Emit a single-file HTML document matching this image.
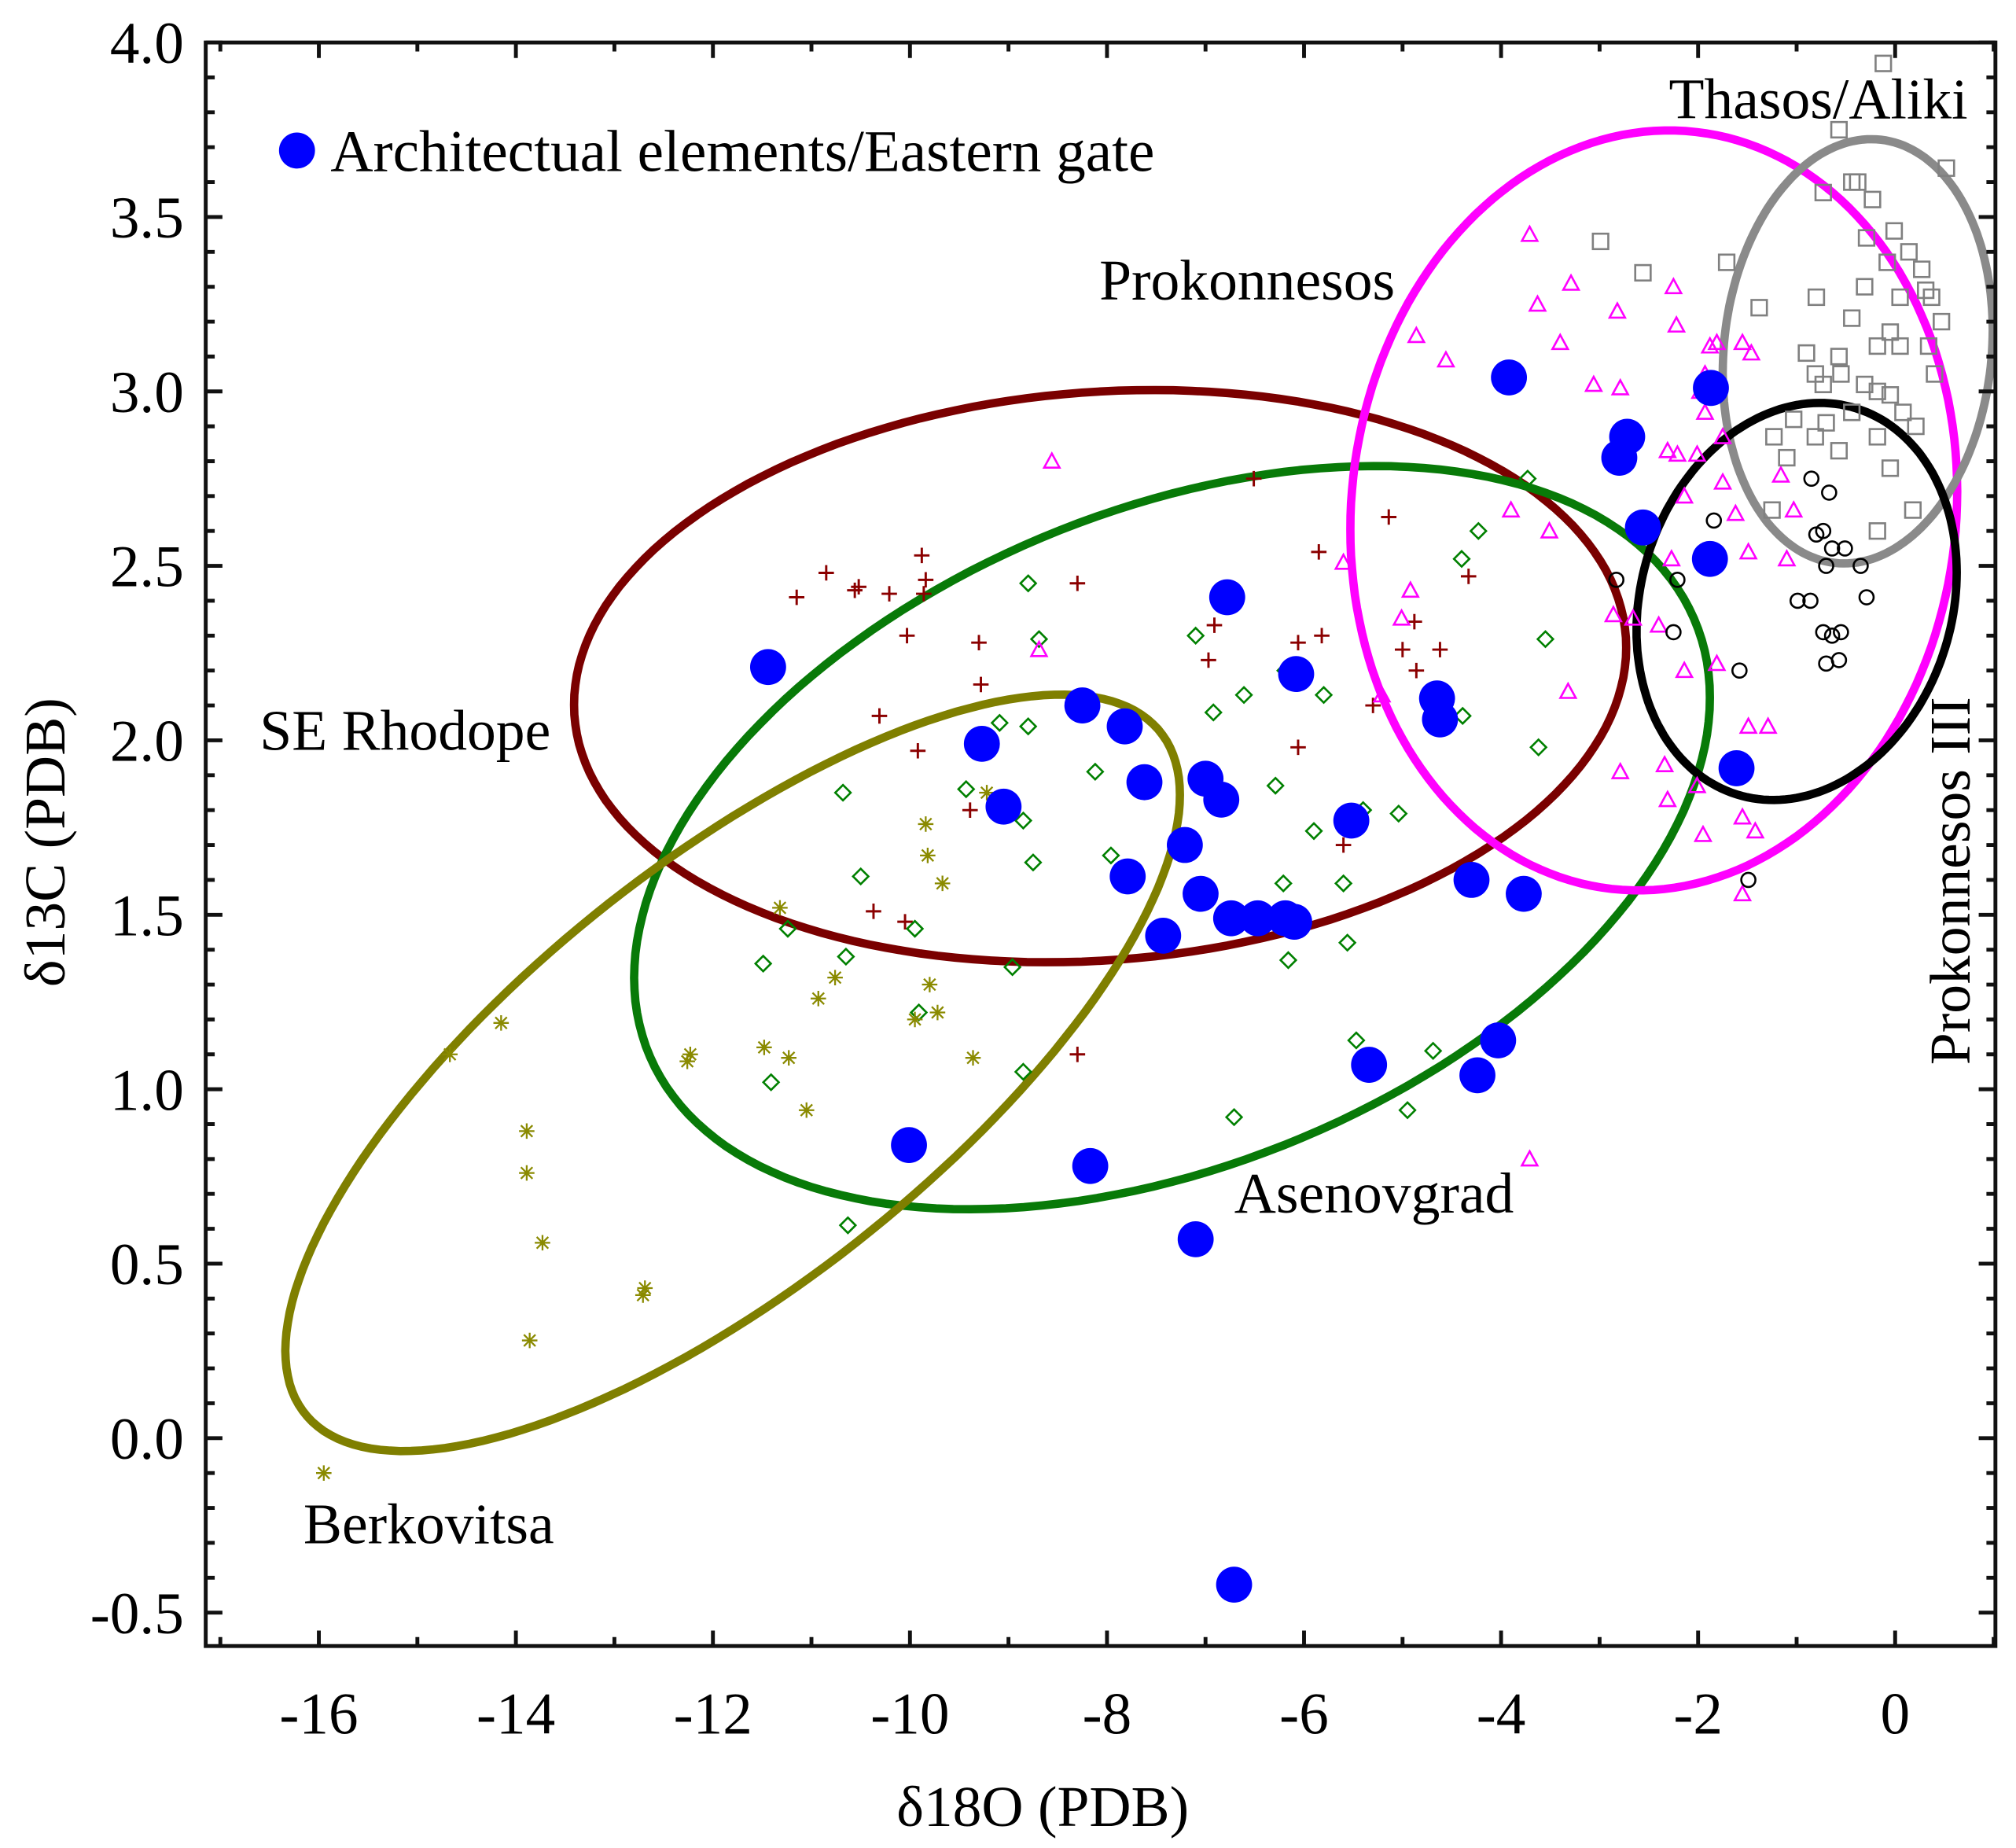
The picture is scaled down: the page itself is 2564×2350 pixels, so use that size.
<!DOCTYPE html>
<html><head><meta charset="utf-8"><style>
html,body{margin:0;padding:0;background:#fff}
svg{display:block}
text{font-family:"Liberation Serif",serif;fill:#000}
</style></head><body>
<svg id="chart" width="2564" height="2350" viewBox="0 0 1568 1437" xmlns="http://www.w3.org/2000/svg">
<g id="ellipses"></g>
<g id="marks"></g>
<g id="axes"></g>
<g>
<circle cx="231" cy="117" r="14" fill="#0000ff"/>
<text x="257" y="133" font-size="46">Architectual elements/Eastern gate</text>
<text x="1298" y="92" font-size="45">Thasos/Aliki</text>
<text x="855" y="233" font-size="45">Prokonnesos</text>
<text x="202" y="583" font-size="45">SE Rhodope</text>
<text x="960" y="943" font-size="45">Asenovgrad</text>
<text x="236" y="1200" font-size="45">Berkovitsa</text>
<text x="0" y="0" font-size="45" text-anchor="middle" transform="translate(1532,685) rotate(-90)">Prokonnesos III</text>
<text x="0" y="0" font-size="45" text-anchor="middle" transform="translate(50,655) rotate(-90)">δ13C (PDB)</text>
<text x="811" y="1420" font-size="45" text-anchor="middle">δ18O (PDB)</text>
</g>
</svg>
<script>
const xTicks=[-16,-14,-12,-10,-8,-6,-4,-2,0];
const yTicks=[-0.5,0.0,0.5,1.0,1.5,2.0,2.5,3.0,3.5,4.0];
const yTickLabels=["-0.5","0.0","0.5","1.0","1.5","2.0","2.5","3.0","3.5","4.0"];

const archX=[-11.44,-3.92,-2.72,-2.80,-2.56,-1.88,-1.87,-1.61,-6.78,-6.08,-4.65,-4.62,-8.25,-7.82,-9.27,-9.05,-7.62,-7.00,-6.84,-5.52,-7.21,-7.79,-7.05,-7.43,-6.74,-6.47,-6.19,-6.10,-4.30,-3.77,-4.03,-4.24,-5.34,-10.01,-8.17,-7.10,-6.71];
const archY=[2.21,3.04,2.87,2.81,2.61,2.52,3.01,1.92,2.41,2.19,2.12,2.06,2.10,2.04,1.99,1.81,1.88,1.89,1.83,1.77,1.70,1.61,1.56,1.44,1.49,1.49,1.49,1.48,1.60,1.56,1.14,1.04,1.07,0.84,0.78,0.57,-0.42];

const rhodX=[-10.85,-11.15,-10.56,-10.21,-10.52,-9.88,-9.84,-9.86,-10.03,-9.30,-10.31,-9.92,-9.28,-9.39,-10.37,-10.05,-8.30,-8.30,-6.91,-6.97,-5.14,-5.85,-5.82,-6.06,-5.00,-4.88,-4.62,-4.33,-6.06,-5.60,-5.30,-6.51,-4.86];
const rhodY=[2.48,2.41,2.43,2.42,2.44,2.53,2.46,2.42,2.30,2.28,2.07,1.97,2.16,1.80,1.51,1.48,2.45,1.10,2.33,2.23,2.64,2.54,2.30,2.28,2.26,2.34,2.26,2.47,1.98,1.70,2.10,2.75,2.20];

const asenX=[-8.80,-8.69,-9.09,-8.80,-9.43,-10.68,-8.12,-8.85,-7.96,-8.75,-10.50,-11.24,-11.49,-10.65,-9.95,-8.96,-7.10,-6.92,-6.61,-6.19,-6.29,-5.80,-5.90,-5.40,-6.21,-5.60,-6.16,-5.56,-5.04,-4.40,-4.23,-3.73,-3.55,-3.62,-4.39,-5.47,-4.69,-4.95,-6.71,-8.85,-11.41,-10.63,-9.91];
const asenY=[2.45,2.29,2.05,2.04,1.86,1.85,1.91,1.77,1.67,1.65,1.61,1.46,1.36,1.38,1.46,1.35,2.30,2.08,2.13,2.20,1.87,2.13,1.74,1.80,1.59,1.59,1.37,1.42,1.79,2.52,2.60,2.75,2.29,1.98,2.07,1.14,1.11,0.94,0.92,1.05,1.02,0.61,1.22];

const berkX=[-11.32,-11.23,-11.48,-12.23,-12.26,-10.93,-10.76,-11.05,-9.84,-9.82,-9.67,-9.80,-9.95,-9.72,-9.36,-9.22,-14.15,-14.67,-13.89,-13.89,-13.73,-12.69,-12.71,-13.86,-15.95];
const berkY=[1.52,1.09,1.12,1.10,1.08,1.26,1.32,0.94,1.76,1.67,1.59,1.30,1.20,1.22,1.09,1.85,1.19,1.10,0.88,0.76,0.56,0.43,0.41,0.28,-0.10];

const prokX=[-8.56,-8.69,-3.71,-4.86,-4.56,-3.63,-3.40,-3.29,-2.82,-3.06,-2.79,-2.25,-2.22,-1.81,-1.93,-1.98,-1.93,-1.75,-1.88,-1.55,-1.46,-2.31,-2.21,-2.01,-1.75,-2.14,-1.62,-1.16,-1.10,-1.03,-1.49,-2.27,-2.66,-3.90,-3.51,-4.92,-5.01,-5.21,-5.60,-3.32,-2.86,-2.40,-2.14,-1.81,-1.49,-1.29,-2.79,-2.34,-2.01,-1.55,-2.31,-1.95,-1.42,-1.55,-3.71];
const prokY=[2.80,2.26,3.45,3.16,3.09,3.25,3.14,3.31,3.23,3.02,3.01,3.30,3.19,3.14,3.05,3.00,2.94,2.87,3.13,3.14,3.11,2.83,2.82,2.82,2.74,2.70,2.65,2.76,2.52,2.66,2.54,2.52,2.35,2.66,2.60,2.43,2.35,2.13,2.51,2.14,2.36,2.33,2.20,2.22,2.04,2.04,1.91,1.93,1.87,1.78,1.83,1.73,1.74,1.56,0.80];

const thasX=[-0.12,-0.57,-0.44,-0.38,-0.73,-0.23,-0.01,-0.29,0.52,0.14,-0.08,-0.31,0.31,0.37,0.05,-0.80,-1.38,-1.71,-2.56,-2.99,-0.90,-0.44,-0.05,-0.18,0.05,0.34,-0.57,-0.81,-0.73,-0.55,-0.31,-0.18,-0.05,0.08,-0.44,-0.70,-0.81,-0.57,-0.18,0.21,-0.05,-1.03,-1.10,-1.25,0.18,-0.18,0.40,0.47,0.27,-1.23];
const thasY=[3.94,3.75,3.60,3.60,3.57,3.55,3.46,3.44,3.64,3.40,3.37,3.30,3.29,3.27,3.27,3.27,3.24,3.37,3.34,3.43,3.11,3.21,3.17,3.13,3.13,3.13,3.10,3.05,3.02,3.05,3.02,3.00,2.99,2.94,2.94,2.91,2.87,2.83,2.87,2.90,2.78,2.92,2.81,2.66,2.66,2.60,3.05,3.20,3.35,2.87];

const p3X=[-0.85,-0.67,-1.84,-0.73,-0.80,-0.64,-0.51,-0.70,-0.35,-0.99,-0.86,-0.29,-0.73,-0.64,-0.55,-0.70,-0.57,-2.21,-2.25,-1.58,-2.83,-1.49];
const p3Y=[2.75,2.71,2.63,2.60,2.59,2.55,2.55,2.50,2.50,2.40,2.40,2.41,2.31,2.30,2.31,2.22,2.23,2.46,2.31,2.20,2.46,1.60];

// ellipses: center x, center y, half-width (x units), half-height (y units), correlation
const ellipseNames=["rhodope-ellipse","asenovgrad-ellipse","berkovitsa-ellipse","prokonnesos-ellipse","thasos-ellipse","prokonnesos-iii-ellipse"];
const ellipseCX=[-8.07,-7.34,-11.80,-2.45,-0.38,-1.00];
const ellipseCY=[2.184,1.721,1.047,2.659,3.115,2.398];
const ellipseRX=[5.34,5.46,4.54,3.08,1.37,1.625];
const ellipseRY=[0.820,1.065,1.084,1.089,0.608,0.569];
const ellipseCorr=[0.10,0.377,0.735,0.05,0.10,0.146];
const ellipseColors=["#7a0000","#087a08","#7f7f00","#ff00ff","#8a8a8a","#000000"];

const X0=248,X1=1474,XV0=-16,XV1=0;
const Y0=1254,Y1=33,YV0=-0.5,YV1=4.0;
const L=160,R=1552,T=33,B=1280;
function sx(v){return X0+(v-XV0)*(X1-X0)/(XV1-XV0);}
function sy(v){return Y0+(v-YV0)*(Y1-Y0)/(YV1-YV0);}
const NS="http://www.w3.org/2000/svg";
function mk(tag,attrs,parent){const e=document.createElementNS(NS,tag);for(const k in attrs)e.setAttribute(k,attrs[k]);parent.appendChild(e);return e;}

const eg=document.getElementById('ellipses');
for(let i=0;i<ellipseCX.length;i++){
  const phi=Math.acos(ellipseCorr[i]);let d="";
  for(let k=0;k<=180;k++){const t=k/180*2*Math.PI;
    const x=ellipseCX[i]+ellipseRX[i]*Math.cos(t);
    const y=ellipseCY[i]+ellipseRY[i]*Math.cos(t+phi);
    d+=(k?"L":"M")+sx(x).toFixed(1)+","+sy(y).toFixed(1);}
  const p=mk('path',{d:d+"Z",fill:"none",stroke:ellipseColors[i],"stroke-width":6.5},eg);
  
  
}

const mg=document.getElementById('marks');
function group(name){const g=mk('g',{},mg);return g;}
let g=group('rhodope-points');
rhodX.forEach((v,i)=>{const x=sx(v),y=sy(rhodY[i]);const p=mk('path',{d:`M${x-6},${y}H${x+6}M${x},${y-6}V${y+6}`,stroke:"#8b0000","stroke-width":1.8},g);
  
  });
g=group('asenovgrad-points');
asenX.forEach((v,i)=>{const x=sx(v),y=sy(asenY[i]);const p=mk('path',{d:`M${x},${y-6}L${x+6},${y}L${x},${y+6}L${x-6},${y}Z`,fill:"none",stroke:"#008000","stroke-width":1.6},g);
  
  });
g=group('berkovitsa-points');
berkX.forEach((v,i)=>{const x=sx(v),y=sy(berkY[i]);const p=mk('path',{d:`M${x-6},${y}H${x+6}M${x},${y-6}V${y+6}M${x-4.5},${y-4.5}L${x+4.5},${y+4.5}M${x-4.5},${y+4.5}L${x+4.5},${y-4.5}`,stroke:"#8a8a00","stroke-width":1.4},g);
  
  });
g=group('prokonnesos-points');
prokX.forEach((v,i)=>{const x=sx(v),y=sy(prokY[i]);const p=mk('path',{d:`M${x},${y-6}L${x+6},${y+5}L${x-6},${y+5}Z`,fill:"none",stroke:"#ff00ff","stroke-width":1.6},g);
  
  });
g=group('thasos-points');
thasX.forEach((v,i)=>{const x=sx(v),y=sy(thasY[i]);const p=mk('rect',{x:x-6,y:y-6,width:12,height:12,fill:"none",stroke:"#808080","stroke-width":1.6},g);
  
  });
g=group('prokonnesos-iii-points');
p3X.forEach((v,i)=>{const x=sx(v),y=sy(p3Y[i]);const p=mk('circle',{cx:x,cy:y,r:5.5,fill:"none",stroke:"#000","stroke-width":1.6},g);
  
  });
g=group('architectural-points');
archX.forEach((v,i)=>{const p=mk('circle',{cx:sx(v),cy:sy(archY[i]),r:14,fill:"#0000ff"},g);
  
  });

const ag=document.getElementById('axes');
const fr=mk('rect',{x:L,y:T,width:R-L,height:B-T,fill:"none",stroke:"#111","stroke-width":3},ag);


let td="";
for(let v=-17;v<=1;v++){const x=sx(v);if(x<L||x>R)continue;const len=(v%2===0)?12:7;td+=`M${x},${B}V${B-len}M${x},${T}V${T+len}`;}
for(let k=-7;k<=40;k++){const v=k/10;const y=sy(v);if(y<T-0.5||y>B)continue;const len=(k%5===0)?13:7;td+=`M${L},${y}H${L+len}M${R},${y}H${R-len}`;}
const tp=mk('path',{d:td,stroke:"#111","stroke-width":3},ag);


xTicks.forEach(v=>{const t=mk('text',{x:sx(v),y:1348,"font-size":46,"text-anchor":"middle"},ag);t.textContent=String(v);
  
  });
yTicks.forEach((v,i)=>{const t=mk('text',{x:143,y:sy(v)+16,"font-size":46,"text-anchor":"end"},ag);t.textContent=yTickLabels[i];
  
  });
</script>
</body></html>
